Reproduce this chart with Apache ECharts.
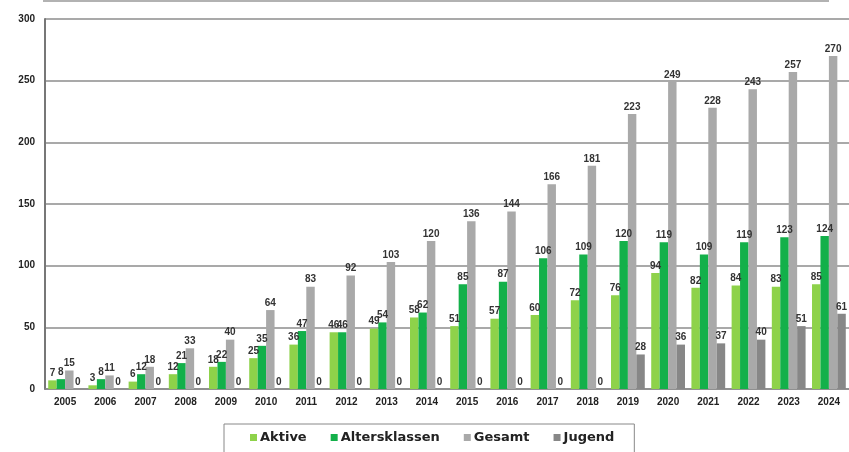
<!DOCTYPE html>
<html>
<head>
<meta charset="utf-8">
<script src="https://cdn.jsdelivr.net/npm/echarts@6/dist/echarts.min.js"></script>
<style>html,body{margin:0;padding:0;background:#fff}#c{width:849px;height:452px}</style>
</head>
<body>
<div id="c"></div>
<script>
var years = ['2005','2006','2007','2008','2009','2010','2011','2012','2013','2014','2015','2016','2017','2018','2019','2020','2021','2022','2023','2024'];
var aktive = [7,3,6,12,18,25,36,46,49,58,51,57,60,72,76,94,82,84,83,85];
var altersklassen = [8,8,12,21,22,35,47,46,54,62,85,87,106,109,120,119,109,119,123,124];
var gesamt = [15,11,18,33,40,64,83,92,103,120,136,144,166,181,223,249,228,243,257,270];
var jugend = [0,0,0,0,0,0,0,0,0,0,0,0,0,0,28,36,37,40,51,61];
var seriesNames = ['Aktive','Altersklassen','Gesamt','Jugend'];
var colors = ['#8ed24a','#13b04a','#a9a9a9','#878787'];

var chart = echarts.init(document.getElementById('c'));
var lbl = {show:true, position:'top', distance:2, fontFamily:'Arial', fontWeight:'bold', fontSize:10, color:'#333'};
function mk(name, data, i){
  return {name:name, type:'bar', data:data, barGap:'0%', barCategoryGap:'16%',
    itemStyle:{color:colors[i]}, label:lbl};
}
chart.setOption({
  animation:false,
  color:colors,
  grid:{left:45, right:-5, top:19, bottom:63},
  graphic:[{type:'line', shape:{x1:43,y1:1,x2:829,y2:1}, style:{stroke:'#999', lineWidth:1.5}}],
  xAxis:{type:'category', data:years,
    axisLine:{lineStyle:{color:'#888', width:1.5}},
    axisTick:{show:false},
    axisLabel:{fontFamily:'Arial', fontWeight:'bold', fontSize:10, color:'#222', margin:8}},
  yAxis:{type:'value', min:0, max:300, interval:50,
    axisLine:{show:true, lineStyle:{color:'#777', width:2}},
    axisTick:{show:false},
    splitLine:{lineStyle:{color:'#8c8c8c', width:1.5}},
    axisLabel:{fontFamily:'Arial', fontWeight:'bold', fontSize:10, color:'#222', margin:10}},
  legend:{data:seriesNames, top:424, left:224,
    itemWidth:7, itemHeight:7, itemGap:24, icon:'rect',
    borderColor:'#888', borderWidth:1, padding:[7,20,14,26],
    textStyle:{fontFamily:'DejaVu Sans', fontWeight:'bold', fontSize:13, color:'#222', padding:[0,0,0,-2]}},
  series:[mk('Aktive',aktive,0), mk('Altersklassen',altersklassen,1), mk('Gesamt',gesamt,2), mk('Jugend',jugend,3)]
});
</script>
</body>
</html>
